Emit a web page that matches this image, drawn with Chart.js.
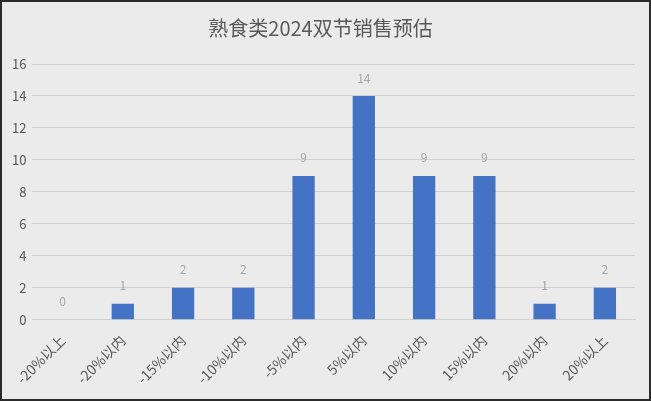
<!DOCTYPE html>
<html>
<head>
<meta charset="utf-8">
<script src="https://cdn.jsdelivr.net/npm/chart.js@4.4.1/dist/chart.umd.min.js"></script>
<style>
  html, body { margin: 0; padding: 0; background: #ebebeb; }
  #wrap { width: 651px; height: 401px; box-sizing: border-box; border: 2px solid #2b2b2b; position: relative; }
  canvas { display: block; }
</style>
</head>
<body>
<div id="wrap"><canvas id="chart" width="647" height="397"></canvas></div>
<script>
const categories = ['-20%以上', '-20%以内', '-15%以内', '-10%以内', '-5%以内', '5%以内', '10%以内', '15%以内', '20%以内', '20%以上'];
const salesCount = [0, 1, 2, 2, 9, 14, 9, 9, 1, 2];
const yTicks = [0, 2, 4, 6, 8, 10, 12, 14, 16];

const fontFamily = '"Noto Sans CJK SC", "Noto Sans", sans-serif';

// data labels above each bar
const barLabels = {
    id: 'barLabels',
    afterDatasetsDraw(chart) {
        const ctx = chart.ctx;
        const meta = chart.getDatasetMeta(0);
        ctx.save();
        ctx.font = '12px ' + fontFamily;
        ctx.fillStyle = '#a6a6a6';
        ctx.textAlign = 'center';
        ctx.textBaseline = 'middle';
        meta.data.forEach((bar, i) => {
            ctx.fillText(String(salesCount[i]), bar.x, bar.y - 18);
        });
        ctx.restore();
    }
};

new Chart(document.getElementById('chart'), {
    type: 'bar',
    data: {
        labels: categories,
        datasets: [{
            data: salesCount,
            backgroundColor: '#4472c4',
            categoryPercentage: 1,
            barPercentage: 0.37
        }]
    },
    options: {
        responsive: false,
        animation: false,
        layout: { padding: { left: 4, right: 14, top: 6, bottom: 8 } },
        plugins: {
            legend: { display: false },
            tooltip: { enabled: false },
            title: {
                display: true,
                text: '熟食类2024双节销售预估',
                color: '#595959',
                font: { family: fontFamily, size: 20, weight: 'normal' },
                padding: { top: 8, bottom: 24 }
            }
        },
        scales: {
            x: {
                grid: { display: false },
                border: { color: '#d0d0d0' },
                ticks: {
                    color: '#595959',
                    font: { family: fontFamily, size: 14 },
                    minRotation: 45,
                    maxRotation: 45,
                    padding: 4
                }
            },
            y: {
                min: 0,
                max: 16,
                afterBuildTicks(axis) {
                    axis.ticks = yTicks.map(v => ({ value: v }));
                },
                grid: { color: '#d0d0d0', drawTicks: false },
                border: { display: false },
                ticks: {
                    color: '#595959',
                    font: { family: fontFamily, size: 13 },
                    padding: 6
                }
            }
        }
    },
    plugins: [barLabels]
});
</script>
</body>
</html>
